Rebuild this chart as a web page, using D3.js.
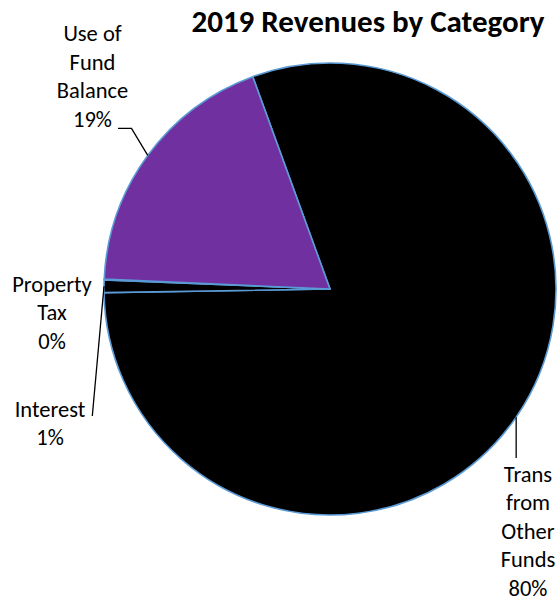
<!DOCTYPE html>
<html>
<head>
<meta charset="utf-8">
<script src="https://cdn.jsdelivr.net/npm/d3@7"></script>
<style>
  html, body { margin: 0; padding: 0; background: #fff; }
  svg { display: block; }
  text { font-family: Carlito, Lato, "Open Sans", sans-serif; fill: #000; }
</style>
</head>
<body>
<svg id="chart" width="557" height="602"></svg>
<script>
// Revenue sources for 2019, as shares of the total (percent)
const categories = ["Trans from Other Funds", "Interest", "Property Tax", "Use of Fund Balance"];
const shares = [80.3, 0.9, 0.05, 18.75];
const sliceColors = ["#000000", "#000000", "#000000", "#7030A0"];
const labelLines = [["Trans", "from", "Other", "Funds"], ["Interest"], ["Property", "Tax"], ["Use of", "Fund", "Balance"]];
const chartTitle = "2019 Revenues by Category";

const svg = d3.select("#chart");
const W = 557, H = 602;
svg.append("rect").attr("width", W).attr("height", H).attr("fill", "#fff");

const cx = 330, cy = 289, R = 226;
const deg = Math.PI / 180;
const firstAngle = -20 * deg;

const pie = d3.pie().sort(null).value(d => d.value)
  .startAngle(firstAngle).endAngle(firstAngle + 2 * Math.PI);
const data = categories.map((c, i) => ({ name: c, value: shares[i], color: sliceColors[i], lines: labelLines[i] }));
const arcs = pie(data);
const arc = d3.arc().innerRadius(0).outerRadius(R);

const g = svg.append("g").attr("transform", `translate(${cx},${cy})`);
g.selectAll("path.slice").data(arcs).join("path")
  .attr("class", "slice")
  .attr("d", arc)
  .attr("fill", d => d.data.color)
  .attr("stroke", "#5B9BD5")
  .attr("stroke-width", 1.6)
  .attr("stroke-linejoin", "round");

// point on the rim at a slice's mid angle (page coordinates)
function rimPoint(a) {
  const m = (a.startAngle + a.endAngle) / 2;
  return [cx + R * Math.sin(m), cy - R * Math.cos(m)];
}

// label placement: centre x, first baseline, leader route
const lineGap = 28.6;
const labelLayout = [
  { x: 528, y: 481.5, leader: p => [p, [p[0], 458]] },
  { x: 50, y: 416.5, leader: p => [p, [92.3, 416]] },
  { x: 52, y: 291.5, leader: null },
  { x: 92.5, y: 41, leader: p => [p, [131.5, 128.3], [118, 128.3]] }
];

const pct = v => Math.round(v) + "%";

arcs.forEach((a, i) => {
  const L = labelLayout[i];
  const lines = a.data.lines.concat([pct(a.data.value)]);
  const t = svg.append("text")
    .attr("text-anchor", "middle")
    .attr("font-size", 22.5);
  lines.forEach((s, k) => {
    t.append("tspan").attr("x", L.x).attr("y", L.y + k * lineGap).text(s);
  });
  if (L.leader) {
    svg.append("path")
      .attr("d", d3.line()(L.leader(rimPoint(a))))
      .attr("fill", "none")
      .attr("stroke", "#000")
      .attr("stroke-width", 1.3);
  }
});

svg.append("text")
  .attr("x", 368).attr("y", 31.5)
  .attr("text-anchor", "middle")
  .attr("font-size", 31)
  .attr("font-weight", "bold")
  .text(chartTitle);
</script>
</body>
</html>
